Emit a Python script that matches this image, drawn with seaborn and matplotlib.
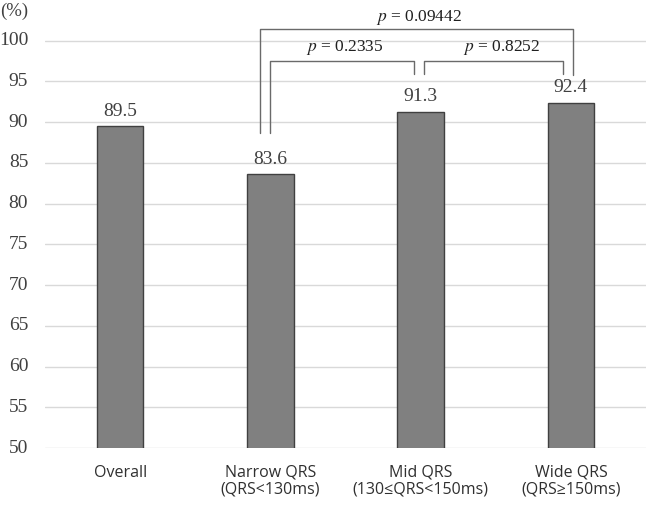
import matplotlib
matplotlib.use("Agg")
import matplotlib.pyplot as plt
import seaborn as sns
import pandas as pd

categories = ["Overall", "Narrow QRS\n(QRS<130ms)", "Mid QRS\n(130≤QRS<150ms)", "Wide QRS\n(QRS≥150ms)"]
values = [89.5, 83.6, 91.3, 92.4]
yticks = [50, 55, 60, 65, 70, 75, 80, 85, 90, 95, 100]
p_labels = ["0.09442", "0.2335", "0.8252"]

sns.set_theme(style="white")
plt.rcParams["mathtext.fontset"] = "stix"
df = pd.DataFrame({"cat": categories, "val": values})

fig = plt.figure(figsize=(6.46, 5.05), dpi=100)
ax = fig.add_axes([0.0697, 0.1125, 0.9303, 0.8875])
sns.barplot(data=df, x="cat", y="val", ax=ax, color="#808080", width=0.31,
            edgecolor="#404040", linewidth=1.0, saturation=1)
ax.set_ylim(50, 105)
ax.set_xlim(-0.5, 3.5)
ax.set_yticks(yticks)
ax.tick_params(axis="y", length=0, labelleft=False)
ax.tick_params(axis="x", length=0, pad=12, labelfontfamily="Open Sans",
               labelsize=11.5, labelcolor="#303030")
for lbl in ax.get_xticklabels():
    lbl.set_linespacing(1.05)
ytrans = ax.get_yaxis_transform()
for t in yticks:
    ax.text(-0.028, t, str(t), transform=ytrans, ha="right", va="center",
            family="Liberation Serif", fontsize=14, color="#404040")
ax.set_xlabel("")
ax.set_ylabel("")
for s in ax.spines.values():
    s.set_visible(False)
for t in yticks:
    ax.axhline(t, color="#d9d9d9", linewidth=1, zorder=0)

for i, v in enumerate(values):
    ax.text(i, v + 1.25, f"{v}", ha="center", va="baseline", family="Liberation Serif",
            fontsize=14, color="#404040")

ax.text(-0.074, 103.6, "(%)", transform=ytrans, ha="left", va="center",
        family="Liberation Serif", fontsize=13.5, color="#404040")

lc = "#6a6a6a"


def bracket(x1, x2, ytop, y1, y2, label, xlab, ylab):
    ax.plot([x1, x1, x2, x2], [y1, ytop, ytop, y2], color=lc, linewidth=1, clip_on=False)
    ax.text(xlab, ylab, "$p$ = " + label, ha="center", va="center",
            family="Liberation Serif", fontsize=12.5, color="#202020")


bracket(1 - 0.067, 3 + 0.013, 101.44, 88.7, 95.8, p_labels[0], 1.987, 102.9)
bracket(1.0, 2 - 0.047, 97.5, 88.7, 95.9, p_labels[1], 1.493, 99.2)
bracket(2 + 0.02, 3 - 0.053, 97.5, 95.9, 95.9, p_labels[2], 2.54, 99.2)

fig.savefig("out.png", dpi=100)
